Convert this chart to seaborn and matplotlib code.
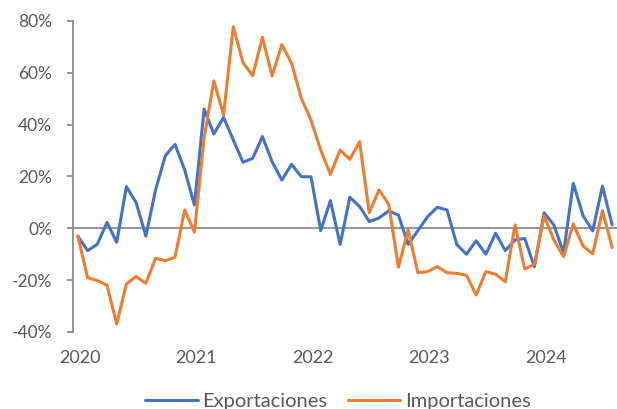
import pandas as pd
import seaborn as sns
import matplotlib.pyplot as plt
from matplotlib.ticker import PercentFormatter

# monthly year-on-year change (%), Jan 2020 .. Aug 2024
exportaciones = [
    -3.0, -8.6, -6.2, 2.3, -5.4, 16.1, 9.9, -3.0, 14.8, 28.0, 32.4, 22.5,
    9.0, 46.0, 36.4, 42.8, 34.1, 25.5, 27.0, 35.4, 25.7, 18.6, 24.7, 19.9,
    19.9, -0.9, 10.7, -6.2, 12.0, 8.4, 2.6, 4.0, 6.7, 5.1, -6.2, -0.9,
    4.5, 8.1, 7.1, -6.2, -10.0, -4.8, -10.0, -1.9, -8.6, -4.5, -3.9, -14.8,
    6.0, 1.3, -9.4, 17.4, 4.9, -1.0, 16.3, 1.3,
]
importaciones = [
    -3.0, -19.0, -20.2, -21.9, -36.9, -21.5, -18.6, -21.2, -11.6, -12.5, -11.2, 7.1,
    -1.5, 34.9, 56.9, 43.7, 77.8, 63.9, 58.9, 73.7, 58.8, 70.9, 63.7, 50.2,
    41.8, 30.2, 20.8, 30.2, 26.6, 33.4, 6.0, 14.8, 9.3, -15.0, -0.6, -17.1,
    -16.7, -14.8, -17.1, -17.4, -18.1, -25.7, -16.7, -17.7, -20.6, 1.3, -15.7, -13.9,
    4.8, -4.5, -10.9, 1.7, -6.8, -9.9, 6.8, -7.4,
]
year_labels = ["2020", "2021", "2022", "2023", "2024"]
series_names = ["Exportaciones", "Importaciones"]
colors = ["#4472C4", "#ED7D31"]

df = pd.DataFrame({
    "mes": list(range(len(exportaciones))) * 2,
    "valor": exportaciones + importaciones,
    "serie": [series_names[0]] * len(exportaciones) + [series_names[1]] * len(importaciones),
})

sns.set_theme(style="white")
plt.rcParams["font.family"] = ["Lato", "DejaVu Sans"]
plt.rcParams["axes.unicode_minus"] = False

fig = plt.figure(figsize=(6.17, 4.09), dpi=100)
ax = fig.add_axes([0.1183, 0.1883, 0.8817, 0.7604])

sns.lineplot(data=df, x="mes", y="valor", hue="serie", palette=colors,
             linewidth=2.2, ax=ax, legend=False)

ax.axhline(0, color="#8c8c8c", linewidth=1.3, zorder=0)

ax.set_xlim(-0.5, len(exportaciones) - 0.5)
ax.set_ylim(-40, 80)
ax.set_yticks(range(-40, 81, 20))
ax.yaxis.set_major_formatter(PercentFormatter(decimals=0))
# one label per January
ax.set_xticks([12 * k + 0.2 for k in range(len(year_labels))])
ax.set_xticklabels(year_labels)
ax.set_xlabel("")
ax.set_ylabel("")

for s in ["top", "right", "bottom"]:
    ax.spines[s].set_visible(False)
ax.spines["left"].set_color("#8c8c8c")
ax.spines["left"].set_linewidth(1.3)

ax.tick_params(axis="y", left=True, length=4, width=1.3, color="#8c8c8c",
               pad=11, labelsize=12.5, labelcolor="#595959")
ax.tick_params(axis="x", bottom=False, length=0, pad=13,
               labelsize=13, labelcolor="#595959")

handles = [plt.Line2D([], [], color=c, linewidth=2.2) for c in colors]
fig.legend(handles, series_names, loc="center", bbox_to_anchor=(0.548, 0.018),
           ncol=2, frameon=False, fontsize=14.5, handlelength=2.6,
           handletextpad=0.25, columnspacing=1.0, labelcolor="#595959",
           borderpad=0)

fig.savefig("out.png", dpi=100)
